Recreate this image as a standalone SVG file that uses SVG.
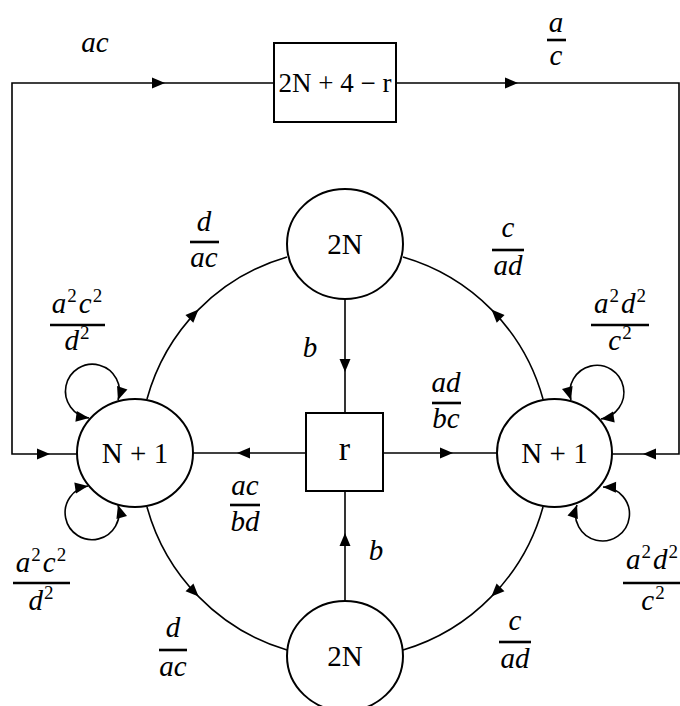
<svg xmlns="http://www.w3.org/2000/svg" xmlns:xlink="http://www.w3.org/1999/xlink" width="680" height="706" viewBox="0 0 680 706">
<style>
.edge{fill:none;stroke:#000;stroke-width:1.6}
.node{fill:#fff;stroke:#000;stroke-width:2}
.nt{font-family:"Liberation Serif",serif;font-size:29px;text-anchor:middle;fill:#000}
.bt{font-size:27px}
.rt{font-size:34px}
.lbl{font-family:"Liberation Serif",serif;font-style:italic;font-size:29px;text-anchor:middle;fill:#000}
.sup{font-size:19px;font-style:normal}
.bar{stroke:#000;stroke-width:2.6}
</style>
<defs>
<path id="ah" d="M0,0 L-13,-5.5 L-13,5.5 Z"/>
<marker id="m" markerUnits="userSpaceOnUse" markerWidth="14" markerHeight="12" viewBox="-13 -6 14 12" refX="0" refY="0" orient="auto" overflow="visible"><path d="M0,0 L-13,-5.5 L-13,5.5 Z"/></marker>
<marker id="ms" markerUnits="userSpaceOnUse" markerWidth="14" markerHeight="12" viewBox="-13 -6 14 12" refX="0" refY="0" orient="auto-start-reverse" overflow="visible"><path d="M0,0 L-13,-5.5 L-13,5.5 Z"/></marker>
</defs>
<rect width="680" height="706" fill="#fff"/>
<g id="connectors">
<path class="edge" d="M274,83 H12 V454 H77"/>
<path class="edge" d="M396,83 H679 V454 H612"/>
<use xlink:href="#ah" href="#ah" transform="translate(165,83)"/>
<use xlink:href="#ah" href="#ah" transform="translate(518,83)"/>
<use xlink:href="#ah" href="#ah" transform="translate(50,454)"/>
<use xlink:href="#ah" href="#ah" transform="translate(643,454) rotate(180)"/>
<path class="edge" marker-mid="url(#m)" d="M147,399 A205,205 0 0 1 198.5,309.6 A205,205 0 0 1 287,257"/>
<path class="edge" marker-mid="url(#m)" d="M543,399 A205,205 0 0 0 491.5,309.6 A205,205 0 0 0 403,257"/>
<path class="edge" marker-mid="url(#m)" d="M147,507 A205,205 0 0 0 198.6,596.6 A205,205 0 0 0 287,650"/>
<path class="edge" marker-mid="url(#m)" d="M543,507 A205,205 0 0 1 491.4,596.6 A205,205 0 0 1 403,650"/>
<path class="edge" marker-mid="url(#m)" d="M345,299 L345,372 L345,413"/>
<path class="edge" marker-mid="url(#m)" d="M345,601 L345,533 L345,491"/>
<path class="edge" marker-mid="url(#m)" d="M306,453 L237,453 L193,453"/>
<path class="edge" marker-mid="url(#m)" d="M383,453 L453,453 L497,453"/>
<path class="edge" marker-start="url(#ms)" marker-end="url(#m)" d="M118,400 A27,27 0 1 0 89,418"/>
<path class="edge" marker-start="url(#ms)" marker-end="url(#m)" d="M88,486 A27,27 0 1 0 118,505"/>
<path class="edge" marker-start="url(#ms)" marker-end="url(#m)" d="M571,400 A27,27 0 1 1 601,419"/>
<path class="edge" marker-start="url(#ms)" marker-end="url(#m)" d="M603,487 A27,27 0 1 1 577,505"/>
</g>
<g id="node-box">
<rect class="node" x="274" y="43" width="122" height="79"/>
<text class="nt bt" x="335" y="92">2N + 4 − r</text>
</g>
<g id="node-top">
<ellipse class="node" cx="345" cy="244" rx="58" ry="55"/>
<text class="nt" x="345" y="254">2N</text>
</g>
<g id="node-bottom">
<ellipse class="node" cx="345" cy="656" rx="58" ry="55"/>
<text class="nt" x="345" y="666">2N</text>
</g>
<g id="node-left">
<ellipse class="node" cx="135" cy="453" rx="58" ry="54"/>
<text class="nt" x="135" y="463">N + 1</text>
</g>
<g id="node-right">
<ellipse class="node" cx="554.5" cy="453" rx="57.5" ry="54"/>
<text class="nt" x="554.5" y="463">N + 1</text>
</g>
<g id="node-r">
<rect class="node" x="306" y="413" width="77" height="78"/>
<text class="nt rt" x="344.5" y="460">r</text>
</g>
<g id="labels">
<text class="lbl" x="95" y="52">ac</text>
<text class="lbl" x="556" y="32">a</text><line class="bar" x1="547" y1="40" x2="566" y2="40"/><text class="lbl" x="556" y="65">c</text>
<text class="lbl" x="204" y="231">d</text><line class="bar" x1="190" y1="242" x2="219" y2="242"/><text class="lbl" x="204" y="267">ac</text>
<text class="lbl" x="508" y="237">c</text><line class="bar" x1="492" y1="250" x2="524" y2="250"/><text class="lbl" x="508" y="275">ad</text>
<text class="lbl" x="77" y="313">a<tspan class="sup" dx="1" dy="-11">2</tspan><tspan dx="2" dy="11">c</tspan><tspan class="sup" dx="1" dy="-11">2</tspan></text><line class="bar" x1="50" y1="325" x2="105" y2="325"/><text class="lbl" x="77" y="350">d<tspan class="sup" dx="1" dy="-11">2</tspan></text>
<text class="lbl" x="620" y="313">a<tspan class="sup" dx="1" dy="-11">2</tspan><tspan dx="2" dy="11">d</tspan><tspan class="sup" dx="1" dy="-11">2</tspan></text><line class="bar" x1="591" y1="325" x2="649" y2="325"/><text class="lbl" x="620" y="350">c<tspan class="sup" dx="1" dy="-11">2</tspan></text>
<text class="lbl" x="310" y="357">b</text>
<text class="lbl" x="446" y="392">ad</text><line class="bar" x1="432" y1="403" x2="461" y2="403"/><text class="lbl" x="446" y="428">bc</text>
<text class="lbl" x="245" y="495">ac</text><line class="bar" x1="230" y1="505" x2="260" y2="505"/><text class="lbl" x="245" y="531">bd</text>
<text class="lbl" x="376" y="560">b</text>
<text class="lbl" x="41" y="572">a<tspan class="sup" dx="1" dy="-11">2</tspan><tspan dx="2" dy="11">c</tspan><tspan class="sup" dx="1" dy="-11">2</tspan></text><line class="bar" x1="13" y1="583" x2="70" y2="583"/><text class="lbl" x="41" y="610">d<tspan class="sup" dx="1" dy="-11">2</tspan></text>
<text class="lbl" x="652" y="569">a<tspan class="sup" dx="1" dy="-11">2</tspan><tspan dx="2" dy="11">d</tspan><tspan class="sup" dx="1" dy="-11">2</tspan></text><line class="bar" x1="623" y1="583" x2="680" y2="583"/><text class="lbl" x="653" y="610">c<tspan class="sup" dx="1" dy="-11">2</tspan></text>
<text class="lbl" x="173" y="637">d</text><line class="bar" x1="159" y1="650" x2="187" y2="650"/><text class="lbl" x="173" y="676">ac</text>
<text class="lbl" x="515" y="630">c</text><line class="bar" x1="499" y1="642" x2="531" y2="642"/><text class="lbl" x="515" y="668">ad</text>
</g>
</svg>
